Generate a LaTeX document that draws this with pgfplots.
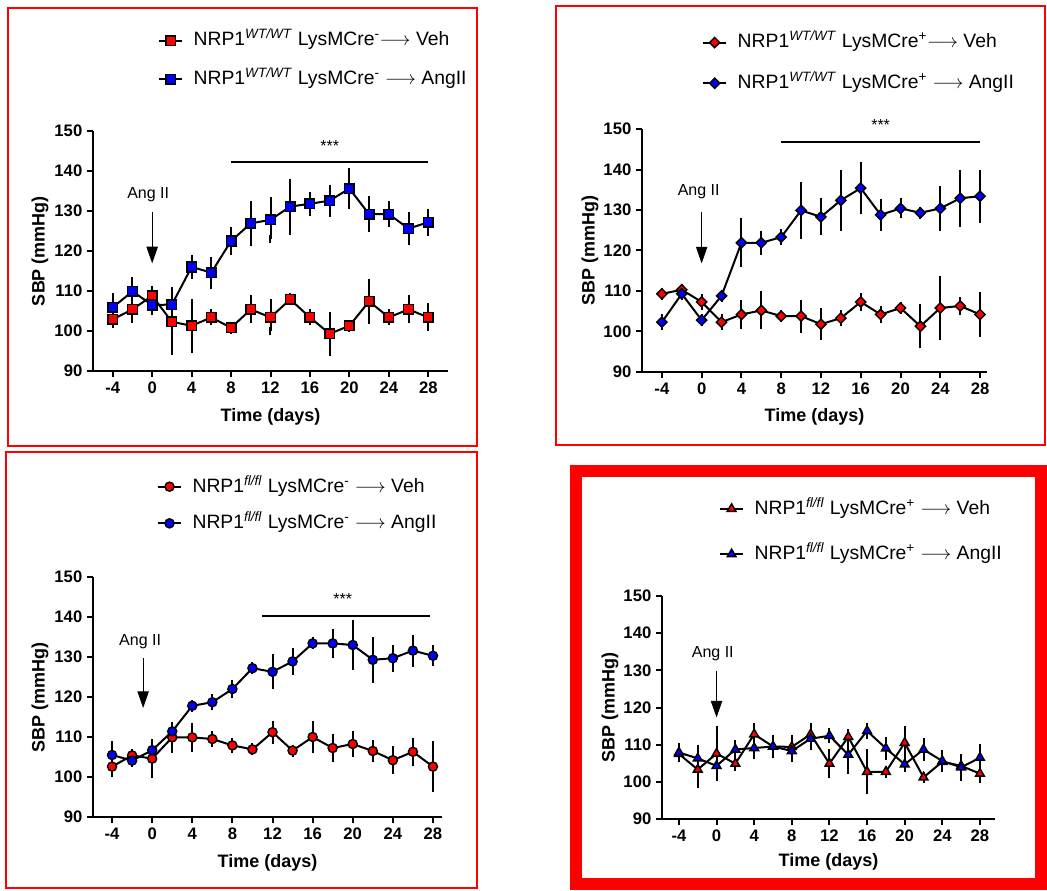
\documentclass[border=0pt]{standalone}
\usepackage{fontspec}
\setmainfont{Liberation Sans}
\usepackage{pgfplots}
\pgfplotsset{compat=1.18}
\usepackage{pgfplotstable}
\usetikzlibrary{arrows.meta}

\pgfplotstableread{
x r re b be
-4 102.9 1.2 105.9 2.5
-2 105.4 2.4 109.9 2.6
0 108.8 1.5 106.5 1.5
2 102.3 7.3 106.6 3.3
4 101.3 5.7 116.0 2.0
6 103.4 1.0 114.6 3.0
8 100.8 0.5 122.5 2.5
10 105.4 2.5 126.9 4.6
12 103.4 3.5 127.8 4.7
14 107.9 0.5 131.1 6.0
16 103.4 1.0 131.8 2.0
18 99.3 4.5 132.6 3.0
20 101.3 0.5 135.6 4.2
22 107.4 4.6 129.2 3.5
24 103.4 1.0 129.2 2.3
26 105.4 2.5 125.6 3.2
28 103.4 2.5 127.2 2.4
}\tA
\pgfplotstableread{
x r re b be
-4 109.3 0.5 102.3 1.0
-2 110.3 0.5 109.3 0.5
0 107.3 1.0 102.8 0.5
2 102.3 1.0 108.8 0.5
4 104.2 2.6 121.9 5.1
6 105.2 3.7 121.9 2.0
8 103.8 0.5 123.3 1.0
10 103.8 3.1 129.9 6.0
12 101.8 3.0 128.3 3.6
14 103.3 1.0 132.4 6.6
16 107.3 1.2 135.4 5.5
18 104.2 1.2 128.8 3.0
20 105.8 0.5 130.4 1.5
22 101.3 4.5 129.3 0.5
24 105.8 7.0 130.4 4.5
26 106.3 1.2 132.9 6.0
28 104.2 4.6 133.4 5.5
}\tB
\pgfplotstableread{
x r re b be
-4 102.6 1.7 105.5 2.4
-2 105.4 0.5 104.1 0.5
0 104.6 3.8 106.7 1.0
2 109.9 2.9 111.4 1.0
4 109.9 2.7 117.8 0.5
6 109.5 1.0 118.7 1.0
8 107.9 0.8 122.0 1.2
10 106.9 0.5 127.2 0.5
12 111.2 1.9 126.3 3.4
14 106.6 0.5 128.9 2.4
16 110.0 3.0 133.4 0.5
18 107.25 2.4 133.4 2.7
20 108.25 2.2 133.0 5.2
22 106.5 1.8 129.3 4.7
24 104.2 2.5 129.7 2.4
26 106.3 2.5 131.6 3.0
28 102.6 5.3 130.3 1.6
}\tC
\pgfplotstableread{
x r re b be
-4 107.5 1.0 107.9 1.5
-2 103.3 4.0 106.3 2.4
0 107.6 6.3 104.3 3.0
2 104.9 1.0 108.7 1.5
4 112.8 2.0 109.1 2.0
6 109.5 2.0 109.5 2.0
8 109.4 2.0 108.3 2.0
10 112.8 2.0 111.6 2.0
12 104.9 2.8 112.4 1.0
14 112.1 1.0 107.3 4.0
16 102.7 5.0 113.7 1.0
18 102.7 0.5 109.0 2.0
20 110.5 3.4 104.7 1.0
22 101.2 0.5 108.7 2.0
24 105.4 1.5 105.6 2.0
26 104.3 2.0 103.9 2.5
28 102.2 1.5 106.5 2.5
}\tD

\pgfplotsset{
  gp/.style={
    scale only axis,
    axis x line*=bottom, axis y line*=left,
    axis line style={line width=1.5pt},
    tick align=outside, major tick length=4.5pt,
    tick style={line width=1.5pt,black},
    xtick={-4,0,...,28}, ytick={90,100,...,150},
    ymin=90, ymax=150,
    clip=false,
    /pgf/number format/assume math mode=true,
    ticklabel style={font=\bfseries\fontsize{12.5}{14}\selectfont},
    label style={font=\bfseries\fontsize{13.5}{16}\selectfont},
    xlabel={Time (days)}, ylabel={SBP (mmHg)},
    legend cell align=left,
    legend style={draw=none, fill=none, inner sep=0pt, anchor=west,
      font=\fontsize{14.5}{17}\selectfont,
      nodes={inner sep=0pt, text height=11pt, text depth=3pt},
      /tikz/every odd column/.append style={column sep=8pt}},
  },
  eb/.style={forget plot, only marks, mark=none,
    error bars/.cd, y dir=both, y explicit,
    error bar style={line width=1.5pt,black,solid},
    error mark options={line width=1.5pt,black,mark size=3pt}},
  ser/.style 2 args={black, line width=1.5pt, mark=#2,
    mark options={fill=#1, draw=black, line width=1.1pt, solid}},
  serd/.style={black, line width=1.5pt, mark=square*, mark size=2.7pt,
    mark options={fill=#1, draw=black, line width=1.1pt, solid, rotate=45}},
}
\tikzset{arr/.style={line width=0.9pt, -{Triangle[width=8.5pt,length=12.5pt]}}}

\begin{document}
\begin{tikzpicture}
\useasboundingbox (0,0) rectangle (785.25pt,667.5pt);
\begin{scope}[x=0.75pt,y=0.75pt]
\draw[red, line width=1.1pt] (8,882) rectangle (477,444);
\draw[red, line width=1.1pt] (556,884) rectangle (1045,445);
\draw[red, line width=1.1pt] (6,438) rectangle (477,2);
\draw[red, line width=9pt] (576,419) rectangle (1041,6);
\end{scope}

% Panel 1
\begin{axis}[gp, at={(69.75pt,389.25pt)}, anchor=south west,
  width=266.25pt, height=180pt, xmin=-6, xmax=30,
  x label style={at={(axis description cs:0.5,-0.192)},anchor=center},
  y label style={at={(axis description cs:-0.149,0.5)},anchor=center},
  legend style={at={(0.183,1.296)}, row sep=15pt}]
\addplot[eb] table[x=x,y=r,y error=re] {\tA};
\addplot[ser={red}{square*}, mark size=3.6pt] table[x=x,y=r] {\tA};
\addlegendentry{NRP1\textsuperscript{\textit{WT/WT}} LysMCre\textsuperscript{-}$\longrightarrow$ Veh}
\addplot[eb] table[x=x,y=b,y error=be] {\tA};
\addplot[ser={blue}{square*}, mark size=3.6pt] table[x=x,y=b] {\tA};
\addlegendentry{NRP1\textsuperscript{\textit{WT/WT}} LysMCre\textsuperscript{-} $\longrightarrow$ AngII}
\draw[line width=1.5pt] (axis cs:8,142.3) -- (axis cs:28,142.3);
\node[font=\fontsize{12}{14}\selectfont] at (axis cs:18,146.3) {***};
\node[font=\fontsize{12}{14}\selectfont] at (axis cs:-0.4,134) {Ang II};
\draw[arr] (axis cs:0,129.8) -- (axis cs:0,116.9);
\end{axis}

% Panel 2
\begin{axis}[gp, at={(481.5pt,388.5pt)}, anchor=south west,
  width=258.75pt, height=182.25pt, xmin=-6, xmax=28.7,
  x label style={at={(axis description cs:0.5,-0.185)},anchor=center},
  y label style={at={(axis description cs:-0.151,0.5)},anchor=center},
  legend style={at={(0.174,1.272)}, row sep=16.5pt}]
\addplot[eb] table[x=x,y=r,y error=re] {\tB};
\addplot[serd=red] table[x=x,y=r] {\tB};
\addlegendentry{NRP1\textsuperscript{\textit{WT/WT}} LysMCre\textsuperscript{+}$\longrightarrow$ Veh}
\addplot[eb] table[x=x,y=b,y error=be] {\tB};
\addplot[serd=blue] table[x=x,y=b] {\tB};
\addlegendentry{NRP1\textsuperscript{\textit{WT/WT}} LysMCre\textsuperscript{+} $\longrightarrow$ AngII}
\draw[line width=1.5pt] (axis cs:8,146.9) -- (axis cs:28,146.9);
\node[font=\fontsize{12}{14}\selectfont] at (axis cs:18,151) {***};
\node[font=\fontsize{12}{14}\selectfont] at (axis cs:-0.3,134.5) {Ang II};
\draw[arr] (axis cs:0,129.6) -- (axis cs:0,116.8);
\end{axis}

% Panel 3
\begin{axis}[gp, at={(69.75pt,54.75pt)}, anchor=south west,
  width=261.75pt, height=180pt, xmin=-5.9, xmax=28.9,
  x label style={at={(axis description cs:0.5,-0.192)},anchor=center},
  y label style={at={(axis description cs:-0.152,0.5)},anchor=center},
  legend style={at={(0.183,1.30)}, row sep=13.5pt}]
\addplot[eb] table[x=x,y=r,y error=re] {\tC};
\addplot[ser={red}{*}, mark size=3.4pt] table[x=x,y=r] {\tC};
\addlegendentry{NRP1\textsuperscript{\textit{fl/fl}} LysMCre\textsuperscript{-} $\longrightarrow$ Veh}
\addplot[eb] table[x=x,y=b,y error=be] {\tC};
\addplot[ser={blue}{*}, mark size=3.4pt] table[x=x,y=b] {\tC};
\addlegendentry{NRP1\textsuperscript{\textit{fl/fl}} LysMCre\textsuperscript{-} $\longrightarrow$ AngII}
\draw[line width=1.5pt] (axis cs:11,140.2) -- (axis cs:27.7,140.2);
\node[font=\fontsize{12}{14}\selectfont] at (axis cs:19,144.4) {***};
\node[font=\fontsize{12}{14}\selectfont] at (axis cs:-1.2,133.9) {Ang II};
\draw[arr] (axis cs:-0.9,129.75) -- (axis cs:-0.9,117.25);
\end{axis}

% Panel 4
\begin{axis}[gp, at={(496.5pt,53.25pt)}, anchor=south west,
  width=249.75pt, height=167.25pt, xmin=-5.8, xmax=29.6,
  x label style={at={(axis description cs:0.5,-0.193)},anchor=center},
  y label style={at={(axis description cs:-0.156,0.5)},anchor=center},
  legend style={at={(0.171,1.289)}, row sep=20pt}]
\addplot[eb] table[x=x,y=r,y error=re] {\tD};
\addplot[ser={red}{triangle*}, mark size=3.8pt] table[x=x,y=r] {\tD};
\addlegendentry{NRP1\textsuperscript{\textit{fl/fl}} LysMCre\textsuperscript{+} $\longrightarrow$ Veh}
\addplot[eb] table[x=x,y=b,y error=be] {\tD};
\addplot[ser={blue}{triangle*}, mark size=3.8pt] table[x=x,y=b] {\tD};
\addlegendentry{NRP1\textsuperscript{\textit{fl/fl}} LysMCre\textsuperscript{+} $\longrightarrow$ AngII}
\node[font=\fontsize{12}{14}\selectfont] at (axis cs:-0.4,134.4) {Ang II};
\draw[arr] (axis cs:0,129.8) -- (axis cs:0,117.3);
\end{axis}
\end{tikzpicture}
\end{document}
